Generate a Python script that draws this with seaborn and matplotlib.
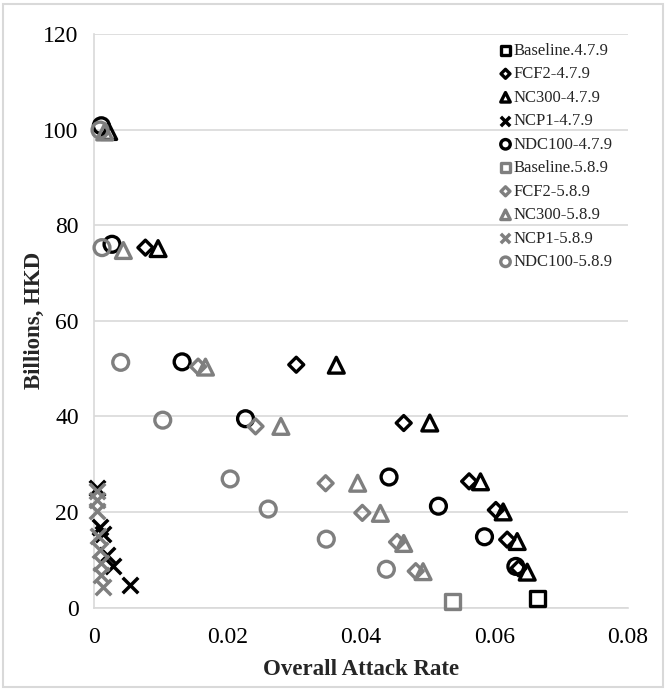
import matplotlib
matplotlib.use("Agg")
import matplotlib.pyplot as plt
from matplotlib.patches import Rectangle
import seaborn as sns
import pandas as pd

# ---- data ----
series_names = ["Baseline.4.7.9", "FCF2-4.7.9", "NC300-4.7.9", "NCP1-4.7.9", "NDC100-4.7.9",
                "Baseline.5.8.9", "FCF2-5.8.9", "NC300-5.8.9", "NCP1-5.8.9", "NDC100-5.8.9"]

baseline_479_x = [0.0665]
baseline_479_y = [1.8]
fcf2_479_x = [0.0077, 0.0303, 0.0464, 0.0562, 0.0602, 0.0619, 0.0636]
fcf2_479_y = [75.3, 50.8, 38.6, 26.4, 20.4, 14.2, 8.2]
nc300_479_x = [0.0022, 0.0096, 0.0363, 0.0503, 0.0579, 0.0613, 0.0634, 0.0649]
nc300_479_y = [99.6, 75.1, 50.7, 38.6, 26.3, 20.0, 13.8, 7.4]
ncp1_479_x = [0.0005, 0.0009, 0.0014, 0.0019, 0.0029, 0.0054]
ncp1_479_y = [25.0, 16.8, 15.4, 11.0, 8.6, 4.8]
ndc100_479_x = [0.0011, 0.0027, 0.0132, 0.0227, 0.0442, 0.0516, 0.0585, 0.0632]
ndc100_479_y = [100.8, 76.0, 51.4, 39.5, 27.3, 21.2, 14.8, 8.6]

baseline_589_x = [0.0537]
baseline_589_y = [1.2]
fcf2_589_x = [0.0156, 0.0242, 0.0347, 0.0402, 0.0454, 0.0482]
fcf2_589_y = [50.4, 37.9, 26.0, 19.8, 13.7, 7.6]
nc300_589_x = [0.0016, 0.0044, 0.0167, 0.0280, 0.0395, 0.0429, 0.0464, 0.0493]
nc300_589_y = [99.5, 74.7, 50.3, 37.9, 26.0, 19.7, 13.4, 7.5]
ncp1_589_x = [0.0004, 0.0004, 0.0004, 0.0006, 0.0009, 0.0011, 0.0011, 0.0014]
ncp1_589_y = [24.4, 22.5, 20.1, 14.9, 12.1, 9.3, 6.9, 4.3]
ndc100_589_x = [0.0009, 0.0012, 0.0040, 0.0103, 0.0204, 0.0261, 0.0348, 0.0438]
ndc100_589_y = [99.9, 75.3, 51.3, 39.2, 26.9, 20.6, 14.3, 8.0]

x_ticks = [0, 0.02, 0.04, 0.06, 0.08]
x_tick_labels = ["0", "0.02", "0.04", "0.06", "0.08"]
y_ticks = [0, 20, 40, 60, 80, 100, 120]

xs = [baseline_479_x, fcf2_479_x, nc300_479_x, ncp1_479_x, ndc100_479_x,
      baseline_589_x, fcf2_589_x, nc300_589_x, ncp1_589_x, ndc100_589_x]
ys = [baseline_479_y, fcf2_479_y, nc300_479_y, ncp1_479_y, ndc100_479_y,
      baseline_589_y, fcf2_589_y, nc300_589_y, ncp1_589_y, ndc100_589_y]

rows = []
for name, xv, yv in zip(series_names, xs, ys):
    for a, b in zip(xv, yv):
        rows.append({"series": name, "x": a, "y": b})
df = pd.DataFrame(rows)

# ---- styling ----
sns.set_style("white")
plt.rcParams["font.family"] = ["Liberation Serif", "DejaVu Serif"]

BLACK = "#000000"
GRAY = "#7f7f7f"
marker_of = {"Baseline": "s", "FCF2": "D", "NC300": "^", "NCP1": "x", "NDC100": "o"}
size_of = {"s": 115, "D": 58, "^": 130, "x": 125, "o": 130}

fig = plt.figure(figsize=(6.66, 6.92), dpi=100)
ax = fig.add_axes([94 / 666, 1 - 607.5 / 692, (628 - 94) / 666, (607.5 - 34) / 692])

for name in series_names:
    key = name.split(".")[0].split("-")[0]
    m = marker_of[key]
    c = BLACK if "4.7.9" in name else GRAY
    sub = df[df["series"] == name]
    if m == "x":
        sns.scatterplot(data=sub, x="x", y="y", ax=ax, marker=m, s=size_of[m],
                        color=c, linewidth=2.5, label=name, zorder=3, clip_on=False)
    else:
        sns.scatterplot(data=sub, x="x", y="y", ax=ax, marker=m, s=size_of[m],
                        facecolor="none", edgecolor=c, linewidth=2.4, label=name,
                        zorder=3, clip_on=False)

ax.set_xlim(0, 0.08)
ax.set_ylim(0, 120)
ax.set_xticks(x_ticks)
ax.set_xticklabels(x_tick_labels)
ax.set_yticks(y_ticks)
ax.tick_params(axis="both", length=0, labelsize=17, colors="black")
ax.tick_params(axis="x", pad=14)
ax.tick_params(axis="y", pad=11)
ax.yaxis.grid(True, color="#d9d9d9", linewidth=1.2)
ax.xaxis.grid(False)
ax.set_axisbelow(True)
for side in ["top", "right"]:
    ax.spines[side].set_visible(False)
for side in ["left", "bottom"]:
    ax.spines[side].set_color("#d9d9d9")
    ax.spines[side].set_linewidth(1.2)

ax.set_xlabel("Overall Attack Rate", fontsize=16.5, fontweight="bold", labelpad=8)
ax.set_ylabel("Billions, HKD", fontsize=16.5, fontweight="bold", labelpad=-1)

leg = ax.legend(loc="upper left", bbox_to_anchor=(488 / 666, 1 - 31 / 692),
                bbox_transform=fig.transFigure, frameon=False, fontsize=12,
                markerscale=0.6, handlelength=0.7, handletextpad=0.15,
                labelspacing=0.45, borderpad=0.2)

fig.patches.append(Rectangle((3 / 666, 5 / 692), 660 / 666, 683 / 692,
                             transform=fig.transFigure, fill=False,
                             edgecolor="#d9d9d9", linewidth=1.5))

fig.savefig("out.png", dpi=100)
